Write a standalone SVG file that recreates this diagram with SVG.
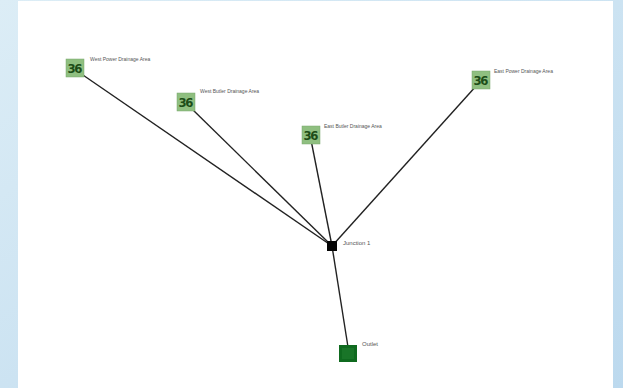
<svg xmlns="http://www.w3.org/2000/svg" width="623" height="388" viewBox="0 0 623 388">
<defs>
<linearGradient id="bg" x1="0" y1="0" x2="1" y2="1">
<stop offset="0" stop-color="#dcedf6"/>
<stop offset="1" stop-color="#bcd9ee"/>
</linearGradient>
<style>
.lbl{font-family:"Liberation Sans",Arial,sans-serif;font-size:5px;fill:#555}
.lbl2{font-family:"Liberation Sans",Arial,sans-serif;font-size:6px;fill:#555}
.area{fill:#8fbf80;stroke:#7aa86c;stroke-width:0.5}
.ico{font-family:"DejaVu Sans Condensed","Liberation Sans",sans-serif;font-size:13px;font-weight:bold;fill:#1d4d18}
.edge{stroke:#222;stroke-width:1.4;fill:none}
</style>
</defs>
<rect x="0" y="0" width="623" height="388" fill="url(#bg)"/>
<rect x="18" y="1" width="595" height="387" fill="#ffffff"/>
<g id="connectors">
<line class="edge" x1="80" y1="73" x2="332" y2="246"/>
<line class="edge" x1="191" y1="108" x2="332" y2="246"/>
<line class="edge" x1="311" y1="140" x2="332" y2="246"/>
<line class="edge" x1="477" y1="85" x2="332" y2="246"/>
<line class="edge" x1="332" y1="246" x2="348" y2="347"/>
</g>
<g id="west-power">
<rect class="area" x="66" y="59" width="18" height="18"/>
<text class="ico" x="75" y="73" text-anchor="middle" textLength="15">36</text>
<text class="lbl" x="90" y="61">West Power Drainage Area</text>
</g>
<g id="west-butler">
<rect class="area" x="177" y="93" width="18" height="18"/>
<text class="ico" x="186" y="107" text-anchor="middle" textLength="15">36</text>
<text class="lbl" x="200" y="93">West Butler Drainage Area</text>
</g>
<g id="east-butler">
<rect class="area" x="302" y="126" width="18" height="18"/>
<text class="ico" x="311" y="140" text-anchor="middle" textLength="15">36</text>
<text class="lbl" x="324" y="128">East Butler Drainage Area</text>
</g>
<g id="east-power">
<rect class="area" x="472" y="71" width="18" height="18"/>
<text class="ico" x="481" y="85" text-anchor="middle" textLength="15">36</text>
<text class="lbl" x="494" y="73">East Power Drainage Area</text>
</g>
<g id="junction-1">
<rect x="327" y="241" width="10" height="10" fill="#050505"/>
<text class="lbl2" x="343" y="245">Junction 1</text>
</g>
<g id="outlet">
<rect x="339" y="345" width="18" height="17" fill="#0f6a1f"/>
<rect x="342" y="348" width="12" height="11" fill="#1e7a2c" opacity="0.7"/>
<text class="lbl2" x="362" y="346">Outlet</text>
</g>
</svg>
